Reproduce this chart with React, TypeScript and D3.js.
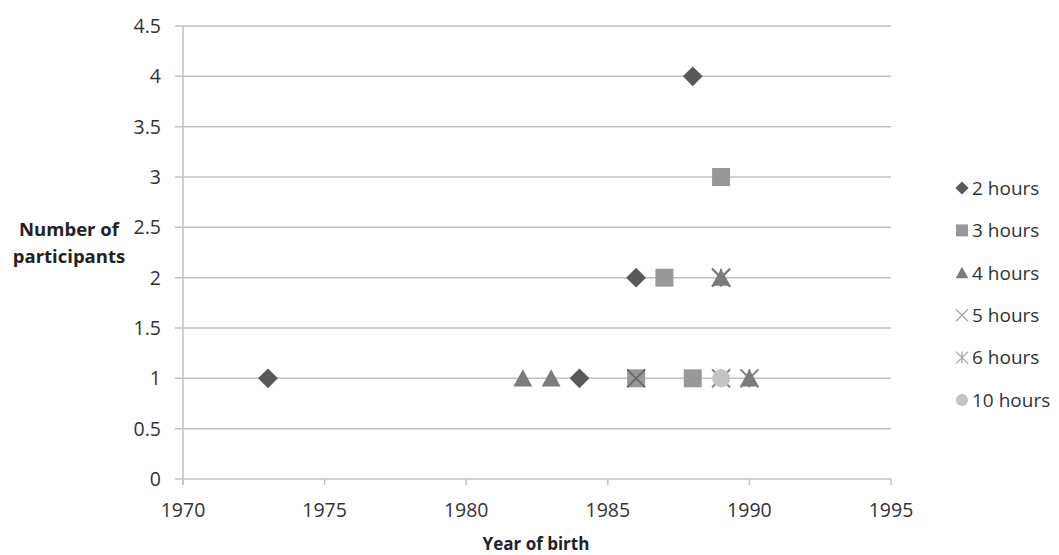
import React from "react";
import * as d3 from "d3";

const seriesNames = ["2 hours", "3 hours", "4 hours", "5 hours", "6 hours", "10 hours"];
const years2h = [1973, 1984, 1986, 1988];
const counts2h = [1, 1, 2, 4];
const years3h = [1986, 1987, 1988, 1989];
const counts3h = [1, 2, 1, 3];
const years4h = [1982, 1983, 1989, 1990];
const counts4h = [1, 1, 2, 1];
const years5h = [1986, 1989];
const counts5h = [1, 2];
const years6h = [1989, 1989, 1990];
const counts6h = [2, 1, 1];
const years10h = [1989];
const counts10h = [1];

const xTicks = [1970, 1975, 1980, 1985, 1990, 1995];
const yTicks = [0, 0.5, 1, 1.5, 2, 2.5, 3, 3.5, 4, 4.5];

const seriesData = [
  { name: seriesNames[0], xs: years2h, ys: counts2h, shape: "diamond", color: "#595959" },
  { name: seriesNames[1], xs: years3h, ys: counts3h, shape: "square", color: "#989898" },
  { name: seriesNames[2], xs: years4h, ys: counts4h, shape: "triangle", color: "#7c7c7c" },
  { name: seriesNames[3], xs: years5h, ys: counts5h, shape: "x", color: "#6a6a6a" },
  { name: seriesNames[4], xs: years6h, ys: counts6h, shape: "star", color: "#7c7c7c" },
  { name: seriesNames[5], xs: years10h, ys: counts10h, shape: "circle", color: "#c4c4c4" },
];

const FONT = "'Open Sans', 'Noto Sans', sans-serif";

function Marker({ shape, color, cx, cy, s, legend }: any) {
  const h = s / 2;
  if (shape === "diamond") {
    const d = h * 1.1;
    return <path d={`M${cx},${cy - d}L${cx + d},${cy}L${cx},${cy + d}L${cx - d},${cy}Z`} fill={color} />;
  }
  if (shape === "square") {
    return <rect x={cx - h} y={cy - h} width={s} height={s} fill={color} />;
  }
  if (shape === "triangle") {
    const w = h * 1.05;
    return <path d={`M${cx},${cy - h}L${cx + w},${cy + h * 0.9}L${cx - w},${cy + h * 0.9}Z`} fill={color} />;
  }
  if (shape === "x") {
    const c = legend ? "#a8a8a8" : color;
    return (
      <path d={`M${cx - h},${cy - h}L${cx + h},${cy + h}M${cx + h},${cy - h}L${cx - h},${cy + h}`} stroke={c} strokeWidth={legend ? 1.3 : 2} fill="none" />
    );
  }
  if (shape === "star") {
    const c = legend ? "#a8a8a8" : color;
    return (
      <path
        d={`M${cx - h},${cy - h}L${cx + h},${cy + h}M${cx + h},${cy - h}L${cx - h},${cy + h}M${cx},${cy - h}L${cx},${cy + h}`}
        stroke={c}
        strokeWidth={legend ? 1.3 : 2}
        fill="none"
      />
    );
  }
  return <circle cx={cx} cy={cy} r={h} fill={color} />;
}

export default function App() {
  const W = 1059;
  const H = 555;
  const x = d3.scaleLinear().domain([1970, 1995]).range([183, 891]);
  const y = d3.scaleLinear().domain([0, 4.5]).range([479, 26]);
  const grid = "#c0c0c0";

  return (
    <svg width={W} height={H} style={{ position: "absolute", left: 0, top: 0, background: "#fff" }} fontFamily={FONT}>
      <rect width={W} height={H} fill="#fff" />
      {yTicks.map((t) => (
        <g key={"y" + t}>
          <line x1={175} x2={891} y1={y(t)} y2={y(t)} stroke={grid} strokeWidth={1.5} />
          <text x={161} y={y(t)} dy="0.36em" textAnchor="end" fontSize={19.5} fill="#333">
            {String(t)}
          </text>
        </g>
      ))}
      <line x1={x(1970)} x2={x(1970)} y1={y(4.5)} y2={y(0) + 6} stroke={grid} strokeWidth={1.5} />
      {xTicks.map((t) => (
        <g key={"x" + t}>
          <line x1={x(t)} x2={x(t)} y1={y(0)} y2={y(0) + 6} stroke={grid} strokeWidth={1.5} />
          <text x={x(t)} y={517} textAnchor="middle" fontSize={19.5} fill="#333">
            {String(t)}
          </text>
        </g>
      ))}
      <text x={536} y={550} textAnchor="middle" fontSize={17} fontWeight="bold" fill="#222">
        Year of birth
      </text>
      <text textAnchor="middle" fontSize={18.5} fontWeight="bold" fill="#222">
        <tspan x={69} y={236}>Number of</tspan>
        <tspan x={69} y={263}>participants</tspan>
      </text>
      {seriesData.map((sr) =>
        sr.xs.map((v, i) => (
          <Marker key={sr.name + i} shape={sr.shape} color={sr.color} cx={x(v)} cy={y(sr.ys[i])} s={18} />
        ))
      )}
      {seriesData.map((sr, i) => {
        const cy = 188 + i * 42.4;
        return (
          <g key={"lg" + sr.name}>
            <Marker shape={sr.shape} color={sr.color} cx={962} cy={cy} s={12} legend />
            <text x={972} y={cy} dy="0.36em" fontSize={19} fill="#333">
              {sr.name}
            </text>
          </g>
        );
      })}
    </svg>
  );
}
